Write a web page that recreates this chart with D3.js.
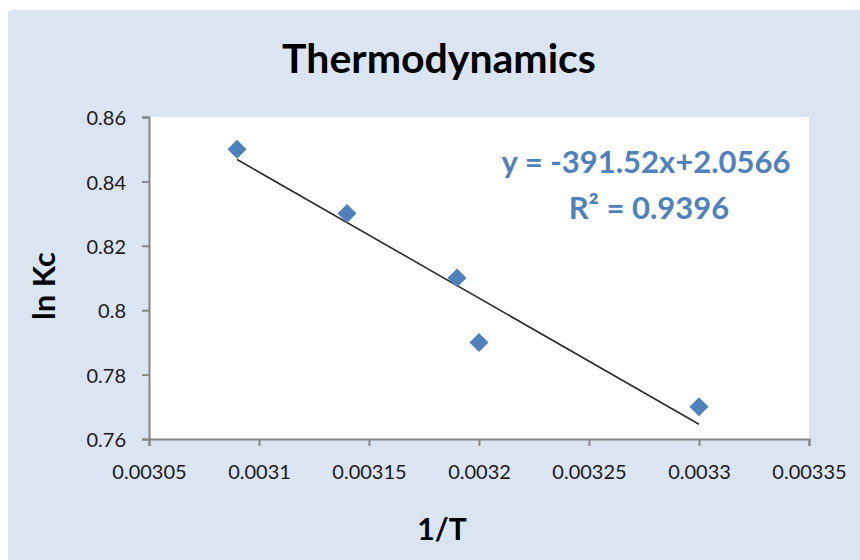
<!DOCTYPE html>
<html>
<head>
<meta charset="utf-8">
<script src="https://cdn.jsdelivr.net/npm/d3@7"></script>
<style>
  html, body { margin: 0; padding: 0; background: #ffffff; }
  svg { display: block; }
  text { font-family: Lato, "Open Sans", "Liberation Sans", sans-serif; }
</style>
</head>
<body>
<svg id="chart" width="860" height="560"></svg>
<script>
// ---- data ----
const xValues = [0.00309, 0.00314, 0.00319, 0.00320, 0.00330];
const yValues = [0.85, 0.83, 0.81, 0.79, 0.77];
const xTicks = [0.00305, 0.0031, 0.00315, 0.0032, 0.00325, 0.0033, 0.00335];
const xTickLabels = ["0.00305", "0.0031", "0.00315", "0.0032", "0.00325", "0.0033", "0.00335"];
const yTicks = [0.76, 0.78, 0.8, 0.82, 0.84, 0.86];
const yTickLabels = ["0.76", "0.78", "0.8", "0.82", "0.84", "0.86"];
const trendSlope = -391.52;
const trendIntercept = 2.0566;
const equationLines = ["y = -391.52x+2.0566", "R² = 0.9396"];
const titleText = "Thermodynamics";
const xTitle = "1/T";
const yTitle = "ln Kc";

// ---- layout ----
const svg = d3.select("#chart");
const plot = { left: 149, top: 117, right: 809, bottom: 439 };

svg.append("rect")
  .attr("x", 8).attr("y", 10).attr("width", 860).attr("height", 560)
  .attr("rx", 4)
  .attr("fill", "#dbe5f1");

svg.append("rect")
  .attr("x", plot.left).attr("y", plot.top)
  .attr("width", plot.right - plot.left).attr("height", plot.bottom - plot.top)
  .attr("fill", "#ffffff");

const x = d3.scaleLinear().domain([0.00305, 0.00335]).range([plot.left, plot.right]);
const y = d3.scaleLinear().domain([0.76, 0.86]).range([plot.bottom, plot.top]);

const xAxis = d3.axisBottom(x).tickValues(xTicks)
  .tickFormat((d, i) => xTickLabels[i]).tickSizeOuter(0).tickSize(7).tickPadding(19);
const yAxis = d3.axisLeft(y).tickValues(yTicks)
  .tickFormat((d, i) => yTickLabels[i]).tickSizeOuter(0).tickSize(7).tickPadding(16);

const gx = svg.append("g").attr("transform", `translate(0,${plot.bottom})`).call(xAxis);
const gy = svg.append("g").attr("transform", `translate(${plot.left},0)`).call(yAxis);

[gx, gy].forEach(g => {
  g.selectAll("path.domain").attr("stroke", "#868686").attr("stroke-width", 2);
  g.selectAll(".tick line").attr("stroke", "#868686").attr("stroke-width", 2);
  g.selectAll(".tick text").attr("fill", "#1a1a1a")
    .style("font-size", "20px")
    .style("font-family", "Lato, 'Open Sans', sans-serif");
});
gy.selectAll(".tick text").attr("dy", "0.38em");

// trendline
const xMin = d3.min(xValues), xMax = d3.max(xValues);
svg.append("line")
  .attr("x1", x(xMin)).attr("y1", y(trendSlope * xMin + trendIntercept))
  .attr("x2", x(xMax)).attr("y2", y(trendSlope * xMax + trendIntercept))
  .attr("stroke", "#2b2b2b").attr("stroke-width", 1.6);

// markers
svg.append("g").selectAll("path")
  .data(xValues.map((v, i) => [v, yValues[i]]))
  .join("path")
  .attr("d", d3.symbol().type(d3.symbolSquare).size(180))
  .attr("transform", d => `translate(${x(d[0])},${y(d[1])}) rotate(45)`)
  .attr("fill", "#4f81bd");

// title
svg.append("text")
  .attr("x", 439).attr("y", 73)
  .attr("text-anchor", "middle")
  .style("font-size", "41px").style("font-weight", "bold")
  .attr("fill", "#000")
  .text(titleText);

// axis titles
svg.append("text")
  .attr("x", 442).attr("y", 540)
  .attr("text-anchor", "middle")
  .style("font-size", "30px").style("font-weight", "bold")
  .attr("fill", "#000")
  .text(xTitle);

svg.append("text")
  .attr("transform", "translate(55,286) rotate(-90)")
  .attr("text-anchor", "middle")
  .style("font-size", "31px").style("font-weight", "bold")
  .attr("fill", "#000")
  .text(yTitle);

// equation
const eq = svg.append("g").attr("fill", "#4f81bd")
  .style("font-size", "31px").style("font-weight", "bold");
eq.append("text").attr("x", 646).attr("y", 173).attr("text-anchor", "middle").text(equationLines[0]);
eq.append("text").attr("x", 649).attr("y", 219).attr("text-anchor", "middle").text(equationLines[1]);
</script>
</body>
</html>
